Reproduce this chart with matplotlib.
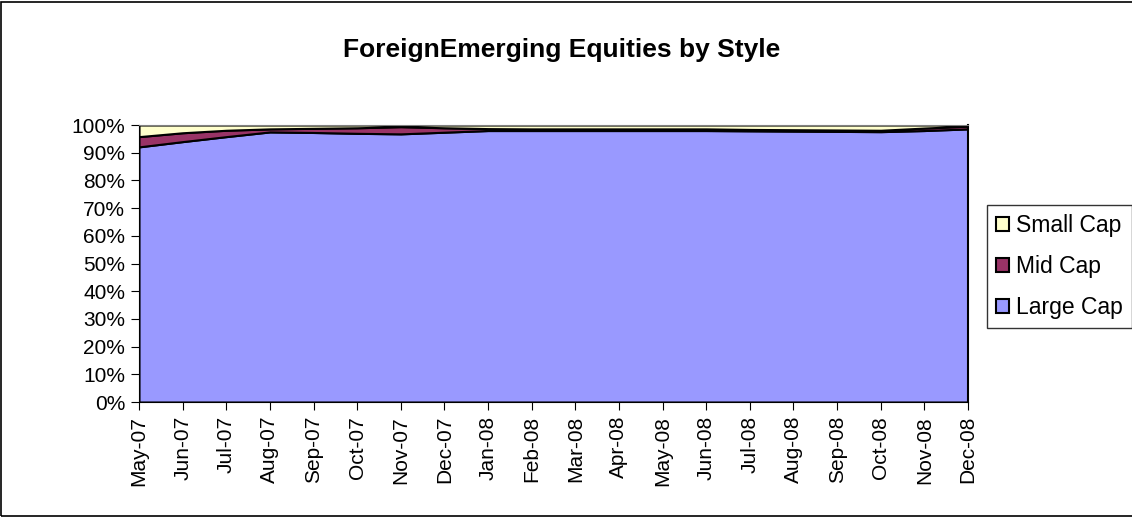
import matplotlib.pyplot as plt
import numpy as np
from matplotlib.patches import Rectangle

plt.rcParams['font.family'] = ['Liberation Sans', 'DejaVu Sans']

months = ['May-07', 'Jun-07', 'Jul-07', 'Aug-07', 'Sep-07', 'Oct-07', 'Nov-07', 'Dec-07',
          'Jan-08', 'Feb-08', 'Mar-08', 'Apr-08', 'May-08', 'Jun-08', 'Jul-08', 'Aug-08',
          'Sep-08', 'Oct-08', 'Nov-08', 'Dec-08']
large = [92.1, 94.0, 95.8, 97.5, 97.3, 97.0, 96.8, 97.4, 98.0, 98.0,
         98.0, 98.0, 98.0, 98.0, 97.9, 97.8, 97.7, 97.6, 98.0, 98.6]
mid = [3.7, 3.2, 2.3, 1.1, 1.5, 2.0, 2.6, 1.6, 0.7, 0.6,
       0.6, 0.6, 0.6, 0.6, 0.5, 0.5, 0.5, 0.5, 0.9, 1.0]
small = [100 - a - b for a, b in zip(large, mid)]

fig = plt.figure(figsize=(11.32, 5.17), dpi=100)
ax = fig.add_axes([139 / 1132, 1 - 402 / 517, (968 - 139) / 1132, (402 - 125) / 517])

x = np.arange(len(months))
ax.stackplot(x, large, mid, small, colors=['#9999FF', '#993366', '#FFFFCC'],
             edgecolor='black', linewidth=1.5,
             labels=['Large Cap', 'Mid Cap', 'Small Cap'])

ax.set_xlim(0, len(months) - 1)
ax.set_ylim(0, 100)
ax.set_yticks(np.arange(0, 101, 10))
ax.set_yticklabels(['%d%%' % v for v in range(0, 101, 10)], fontsize=15)
ax.set_xticks(x)
ax.set_xticklabels(months, rotation=90, fontsize=15)
ax.tick_params(direction='out', length=6, color='black', pad=4)
ax.spines['top'].set_color('#808080')
ax.spines['right'].set_color('black')
ax.spines['right'].set_linewidth(1.5)

fig.text(562 / 1132, 1 - 50 / 517, 'ForeignEmerging Equities by Style',
         fontsize=19, fontweight='bold', ha='center', va='center')

h, l = ax.get_legend_handles_labels()
fig.legend(h[::-1], l[::-1], loc='upper left', bbox_to_anchor=(987 / 1132, 1 - 205 / 517),
           fontsize=16.5, frameon=True, fancybox=False, edgecolor='black',
           handlelength=0.55, handleheight=0.55, handletextpad=0.3, labelspacing=0.78,
           borderpad=0.4, borderaxespad=0)

fig.patches.append(Rectangle((0.001, 0.001), 1.2, 0.996, transform=fig.transFigure,
                             fill=False, edgecolor='black', linewidth=1.2))

fig.savefig('out.png', dpi=100)
